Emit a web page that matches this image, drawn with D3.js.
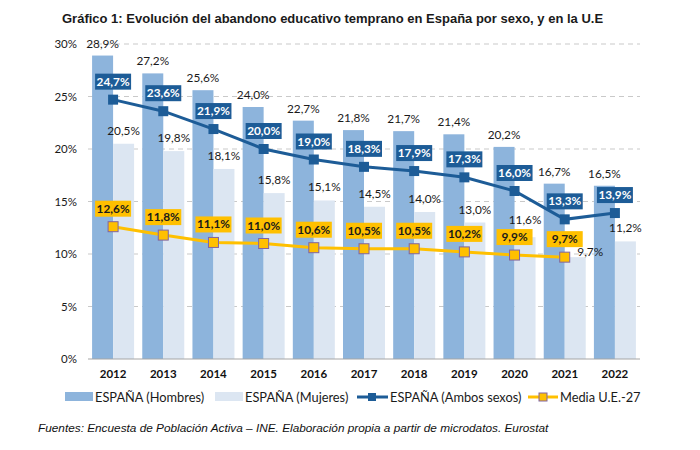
<!DOCTYPE html>
<html><head><meta charset="utf-8">
<script src="https://cdn.jsdelivr.net/npm/d3@7"></script>
<style>body{margin:0;background:#fff}</style>
</head><body>
<svg id="c" width="700" height="450"></svg>
<script>
const years = ["2012","2013","2014","2015","2016","2017","2018","2019","2020","2021","2022"];
const hombres = [28.9, 27.2, 25.6, 24.0, 22.7, 21.8, 21.7, 21.4, 20.2, 16.7, 16.5];
const mujeres = [20.5, 19.8, 18.1, 15.8, 15.1, 14.5, 14.0, 13.0, 11.6, 9.7, 11.2];
const ambos   = [24.7, 23.6, 21.9, 20.0, 19.0, 18.3, 17.9, 17.3, 16.0, 13.3, 13.9];
const mediaUE = [12.6, 11.8, 11.1, 11.0, 10.6, 10.5, 10.5, 10.2, 9.9, 9.7];
const yTicks = [0, 5, 10, 15, 20, 25, 30];
const seriesNames = ["ESPAÑA (Hombres)", "ESPAÑA (Mujeres)", "ESPAÑA (Ambos sexos)", "Media U.E.-27"];
const titleText = "Gráfico 1: Evolución del abandono educativo temprano en España por sexo, y en la U.E";
const sourceText = "Fuentes: Encuesta de Población Activa – INE. Elaboración propia a partir de microdatos. Eurostat";

const C = {hom:"#8DB4DC", muj:"#DCE6F2", navy:"#1D5C97", yellow:"#FFC000", purple:"#8064A2", grid:"#C9C9C9", text:"#1a1a1a"};
const fmt = v => d3.format(".1f")(v).replace(".", ",") + "%";
const FONT = "Lato, 'Open Sans', sans-serif";

const svg = d3.select("#c");
const x = d3.scaleBand().domain(years).range([88, 640]);
const y = d3.scaleLinear().domain([0, 30]).range([359, 44]);
const cx = i => x(years[i]) + x.bandwidth() / 2;
const bw = 21;

// title
svg.append("text").attr("x", 62).attr("y", 23)
  .attr("font-family", "'Liberation Sans', Arial, sans-serif").attr("font-weight", "bold")
  .attr("font-size", 13).attr("fill", "#1a1a1a").text(titleText);

// gridlines
svg.append("g").selectAll("line").data(yTicks.filter(d => d > 0)).join("line")
  .attr("x1", 88).attr("x2", 640).attr("y1", d => y(d)).attr("y2", d => y(d))
  .attr("stroke", C.grid).attr("stroke-width", 1).attr("stroke-dasharray", "5,4");

// y axis
const ya = svg.append("g").attr("transform", "translate(80,0)")
  .call(d3.axisLeft(y).tickValues(yTicks).tickFormat(d => d + "%").tickSize(0).tickPadding(3));
ya.select(".domain").remove();
ya.selectAll("text").attr("font-family", FONT).attr("font-size", 11.5).attr("fill", C.text);

// bars
svg.append("g").selectAll("rect").data(hombres).join("rect")
  .attr("x", (d, i) => cx(i) - bw).attr("width", bw)
  .attr("y", d => y(d)).attr("height", d => y(0) - y(d)).attr("fill", C.hom);
svg.append("g").selectAll("rect").data(mujeres).join("rect")
  .attr("x", (d, i) => cx(i)).attr("width", bw)
  .attr("y", d => y(d)).attr("height", d => y(0) - y(d)).attr("fill", C.muj);

// baseline
svg.append("line").attr("x1", 88).attr("x2", 640).attr("y1", y(0)).attr("y2", y(0))
  .attr("stroke", "#A6A6A6").attr("stroke-width", 1.2);

// x axis
const xa = svg.append("g").attr("transform", `translate(0,${y(0)})`)
  .call(d3.axisBottom(x).tickSize(0).tickPadding(11));
xa.select(".domain").remove();
xa.selectAll("text").attr("font-family", FONT).attr("font-weight", "bold").attr("font-size", 11.5).attr("fill", "#111");

// bar labels
svg.append("g").selectAll("text").data(hombres).join("text")
  .attr("x", (d, i) => cx(i) - bw / 2).attr("y", d => y(d) - 8)
  .attr("text-anchor", "middle").attr("font-family", FONT).attr("font-size", 11.8).attr("fill", C.text)
  .text(fmt);
svg.append("g").selectAll("text").data(mujeres).join("text")
  .attr("x", (d, i) => cx(i) + bw / 2 + (i === 9 ? 15 : 0))
  .attr("y", (d, i) => y(d) - (i === 9 ? 1 : (i === 8 ? 13 : 9)))
  .attr("text-anchor", "middle").attr("font-family", FONT).attr("font-size", 11.8).attr("fill", C.text)
  .text(fmt);

// lines
const lineGen = d3.line().x((d, i) => cx(i)).y(d => y(d));
svg.append("path").datum(mediaUE).attr("d", lineGen).attr("fill", "none")
  .attr("stroke", C.yellow).attr("stroke-width", 3);
svg.append("path").datum(ambos).attr("d", lineGen).attr("fill", "none")
  .attr("stroke", C.navy).attr("stroke-width", 3);

// markers
svg.append("g").selectAll("rect").data(mediaUE).join("rect")
  .attr("x", (d, i) => cx(i) - 5).attr("y", d => y(d) - 5).attr("width", 10).attr("height", 10)
  .attr("fill", C.yellow).attr("stroke", C.purple).attr("stroke-width", 1);
svg.append("g").selectAll("rect").data(ambos).join("rect")
  .attr("x", (d, i) => cx(i) - 5).attr("y", d => y(d) - 5).attr("width", 10).attr("height", 10)
  .attr("fill", C.navy);

// boxed labels
function boxLabels(data, fill, tcolor) {
  const g = svg.append("g").selectAll("g").data(data).join("g")
    .attr("transform", (d, i) => `translate(${cx(i)},${y(d) - 10})`);
  g.append("rect").attr("x", -18).attr("y", -16).attr("width", 36).attr("height", 16).attr("fill", fill);
  g.append("text").attr("x", 0).attr("y", -4).attr("text-anchor", "middle")
    .attr("font-family", FONT).attr("font-weight", "bold").attr("font-size", 11.8).attr("fill", tcolor)
    .text(fmt);
}
boxLabels(mediaUE, C.yellow, "#1a1a1a");
boxLabels(ambos, C.navy, "#fff");

// legend
const lg = svg.append("g").attr("font-family", FONT).attr("font-size", 12.8).attr("fill", C.text);
lg.append("rect").attr("x", 65).attr("y", 392).attr("width", 28).attr("height", 9).attr("fill", C.hom);
lg.append("text").attr("x", 95).attr("y", 401.5).text(seriesNames[0]);
lg.append("rect").attr("x", 215).attr("y", 392).attr("width", 28).attr("height", 9).attr("fill", C.muj);
lg.append("text").attr("x", 245).attr("y", 401.5).text(seriesNames[1]);
lg.append("line").attr("x1", 357).attr("x2", 388).attr("y1", 397).attr("y2", 397).attr("stroke", C.navy).attr("stroke-width", 3);
lg.append("rect").attr("x", 368).attr("y", 393).attr("width", 8).attr("height", 8).attr("fill", C.navy);
lg.append("text").attr("x", 390).attr("y", 401.5).text(seriesNames[2]);
lg.append("line").attr("x1", 528).attr("x2", 558).attr("y1", 397).attr("y2", 397).attr("stroke", C.yellow).attr("stroke-width", 3);
lg.append("rect").attr("x", 539).attr("y", 393).attr("width", 8).attr("height", 8).attr("fill", C.yellow).attr("stroke", C.purple).attr("stroke-width", 1);
lg.append("text").attr("x", 560).attr("y", 401.5).text(seriesNames[3]);

// source
svg.append("text").attr("x", 38).attr("y", 432)
  .attr("font-family", "'Liberation Sans', Arial, sans-serif").attr("font-style", "italic")
  .attr("font-size", 11.8).attr("fill", "#111").text(sourceText);
</script>
</body></html>
